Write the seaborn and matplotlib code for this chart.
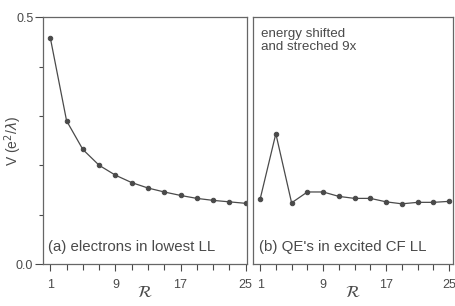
import numpy as np
import pandas as pd
import seaborn as sns
import matplotlib
matplotlib.use("Agg")
import matplotlib.pyplot as plt
from matplotlib.ticker import MultipleLocator, FixedLocator, FormatStrFormatter

sns.set_style("white")
plt.rcParams['font.family'] = ['Liberation Sans', 'DejaVu Sans']

# data
r_values = [1, 3, 5, 7, 9, 11, 13, 15, 17, 19, 21, 23, 25]
v_electrons = [0.458, 0.290, 0.232, 0.200, 0.180, 0.165, 0.154,
               0.146, 0.139, 0.133, 0.129, 0.126, 0.123]
v_qe = [0.131, 0.264, 0.124, 0.146, 0.146, 0.137, 0.133,
        0.133, 0.126, 0.122, 0.125, 0.125, 0.127]
x_tick_labels = [1, 9, 17, 25]

ink = "#4a4a4a"
df_a = pd.DataFrame({"R": r_values, "V": v_electrons})
df_b = pd.DataFrame({"R": r_values, "V": v_qe})

fig = plt.figure(figsize=(4.55, 3.06), dpi=100)
ax_a = fig.add_axes([0.0945, 0.137, 0.448, 0.807])
ax_b = fig.add_axes([0.556, 0.137, 0.44, 0.807])

for ax, df in [(ax_a, df_a), (ax_b, df_b)]:
    sns.lineplot(data=df, x="R", y="V", ax=ax, color=ink, linewidth=0.9,
                 marker="o", markersize=3.2, markeredgecolor=ink)
    ax.set_xlim(0.1, 25.5)
    ax.set_ylim(0.0, 0.5)
    ax.xaxis.set_major_locator(FixedLocator(x_tick_labels))
    ax.xaxis.set_minor_locator(MultipleLocator(2, offset=1))
    ax.tick_params(axis="x", which="major", bottom=True, direction="out", length=5,
                   width=0.8, color=ink, labelcolor=ink, labelsize=9, pad=6)
    ax.tick_params(axis="x", which="minor", bottom=True, direction="out", length=4,
                   width=0.8, color=ink)
    for s in ax.spines.values():
        s.set_color("#666666")
        s.set_linewidth(0.9)
    ax.set_xlabel(r"$\mathcal{R}$", fontsize=12, color=ink, labelpad=-5)

ax_a.set_xlim(0.1, 25.15)
ax_a.yaxis.set_major_locator(FixedLocator([0.0, 0.5]))
ax_a.yaxis.set_minor_locator(MultipleLocator(0.1))
ax_a.yaxis.set_major_formatter(FormatStrFormatter("%.1f"))
ax_a.tick_params(axis="y", which="major", left=True, direction="out", length=6,
                 width=0.8, color=ink, labelcolor=ink, labelsize=9, pad=1)
ax_a.tick_params(axis="y", which="minor", left=True, direction="out", length=3,
                 width=0.8, color=ink)
ax_a.set_ylabel(r"V (e$^2$/$\lambda$)", fontsize=10, color=ink, labelpad=-6)

ax_b.set_yticks([])
ax_b.set_ylabel("")

ax_a.text(0.025, 0.04, "(a) electrons in lowest LL", transform=ax_a.transAxes,
          fontsize=10.8, color=ink, ha="left", va="bottom")
ax_b.text(0.03, 0.04, "(b) QE's in excited CF LL", transform=ax_b.transAxes,
          fontsize=10.8, color=ink, ha="left", va="bottom")
ax_b.text(0.04, 0.955, "energy shifted\nand streched 9x", transform=ax_b.transAxes,
          fontsize=9.6, color=ink, ha="left", va="top", linespacing=1.05)

fig.savefig("out.png", dpi=100)
